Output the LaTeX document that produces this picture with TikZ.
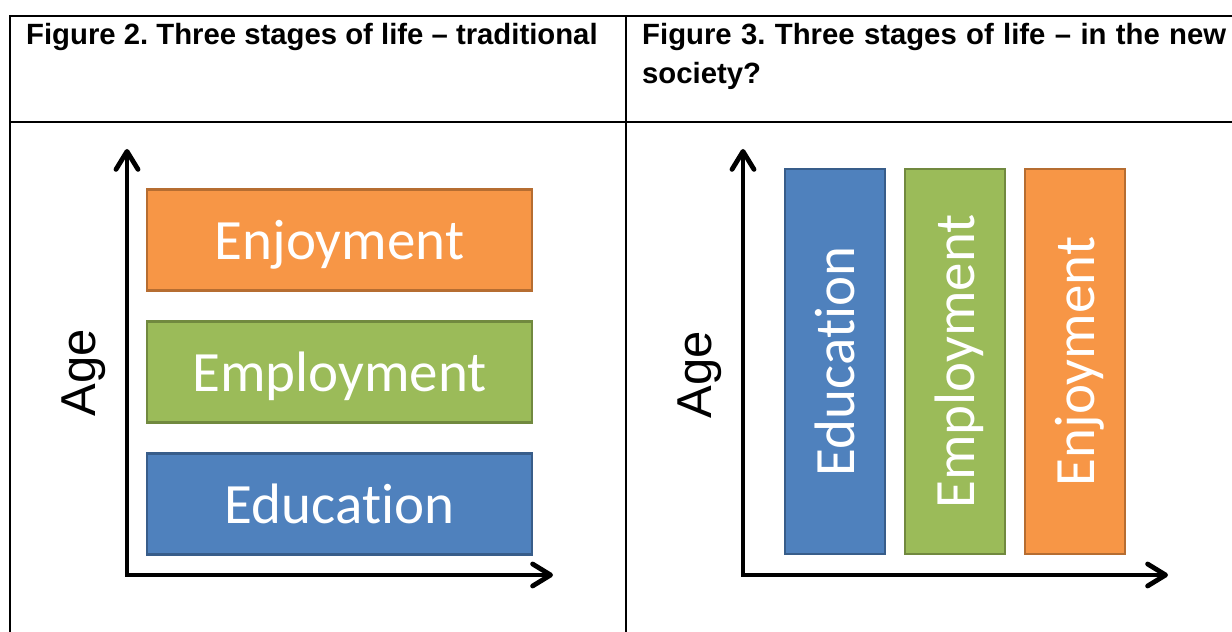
\documentclass[tikz,border=0pt]{standalone}
\usepackage{fontspec}
\usepackage{tikz}
\usetikzlibrary{arrows.meta, positioning}
\usepackage{xcolor}
\newfontfamily\headfont{Liberation Sans}
\newfontfamily\boxfont[Ligatures=NoCommon]{Carlito}
\frenchspacing
% Office palette
\definecolor{eduFill}{HTML}{4F81BD}
\definecolor{eduLine}{HTML}{385D8A}
\definecolor{empFill}{HTML}{9BBB59}
\definecolor{empLine}{HTML}{71893F}
\definecolor{enjFill}{HTML}{F79646}
\definecolor{enjLine}{HTML}{B66D31}

\begin{document}
\begin{tikzpicture}[
        x=1pt, y=1pt,
        rule/.style={line width=2pt},
        head/.style={anchor=north west, inner sep=0pt, text width=584pt, align=justify, font=\headfont\fontsize{29.3}{39}\selectfont\bfseries},
        stage/.style={draw, line width=2.5pt, outer sep=0pt, inner sep=0pt, text=white, text height=39pt, text depth=0pt, font=\boxfont\fontsize{57}{60}\selectfont},
        edu/.style={stage, fill=eduFill, draw=eduLine},
        emp/.style={stage, fill=empFill, draw=empLine},
        enj/.style={stage, fill=enjFill, draw=enjLine},
        bar/.style={minimum width=385pt, minimum height=101pt},
        col/.style={rotate=90, minimum width=385pt, minimum height=100pt},
        axis/.style={line width=4.8pt, {Straight Barb[length=18pt, width=22pt, round]}-{Straight Barb[length=18pt, width=22pt, round]}},
        age/.style={rotate=90, inner sep=0pt, text height=35pt, text depth=0pt, font=\headfont\fontsize{49}{50}\selectfont}
    ]
        \useasboundingbox (0,0) rectangle (1232,632);

        % Table frame
        \draw[rule] (10,0) -- (10,616) -- (1232,616);
        \draw[rule] (10,510) -- (1232,510);
        \draw[rule] (626,0) -- (626,616);

        % Headings
        \node[head] (hTrad) at (26,609) {Figure 2. Three stages of life – traditional};
        \node[head] (hNew) at (642,609) {Figure 3. Three stages of life – in the new \mbox{society?}};

        % Traditional: one stage after the other
        \coordinate (tO) at (127,57);
        \coordinate (tY) at (127,483);
        \coordinate (tX) at (553,57);
        \draw[axis] (tY) -- (tO) -- (tX);
        \node[age] (tAge) at (77.5,259) {Age};

        \node[edu, bar] (tEdu) at (339.5,128) {Education};
        \node[emp, bar, above=31pt of tEdu] (tEmp) {Employment};
        \node[enj, bar, above=31pt of tEmp] (tEnj) {Enjoyment};

        % New society: stages side by side
        \coordinate (nO) at (743,57);
        \coordinate (nY) at (743,483);
        \coordinate (nX) at (1168,57);
        \draw[axis] (nY) -- (nO) -- (nX);
        \node[age] (nAge) at (693.5,257) {Age};

        \node[edu, col] (nEdu) at (835,270.5) {Education};
        \node[emp, col] (nEmp) at (955,270.5) {Employment};
        \node[enj, col] (nEnj) at (1075,270.5) {Enjoyment};
    \end{tikzpicture}
\end{document}
